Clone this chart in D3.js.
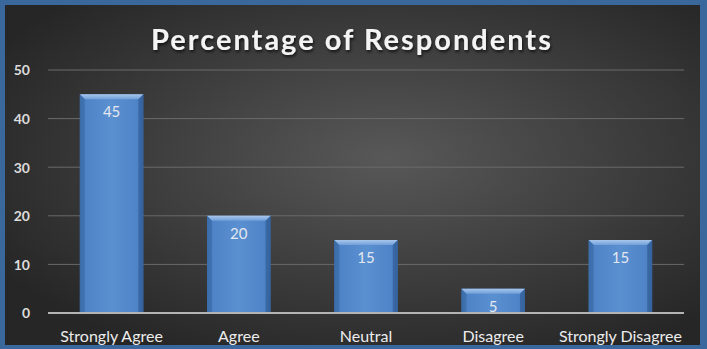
<!DOCTYPE html>
<html><head><meta charset="utf-8">
<script src="https://cdn.jsdelivr.net/npm/d3@7"></script>
<style>html,body{margin:0;padding:0;background:#fff;}svg{display:block;}</style>
</head><body>
<script>
const categories = ["Strongly Agree","Agree","Neutral","Disagree","Strongly Disagree"];
const values = [45,20,15,5,15];
const yTicks = [0,10,20,30,40,50];
const title = "Percentage of Respondents";

const W=707,H=349;
const svg=d3.select("body").append("svg").attr("width",W).attr("height",H);
const defs=svg.append("defs");
const bg=defs.append("radialGradient").attr("id","bg").attr("cx","55%").attr("cy","45%").attr("r","65%");
bg.append("stop").attr("offset","0%").attr("stop-color","#585858");
bg.append("stop").attr("offset","100%").attr("stop-color","#262626");
const bar=defs.append("linearGradient").attr("id","bar").attr("x1","0").attr("x2","1").attr("y1","0").attr("y2","0");
bar.append("stop").attr("offset","0%").attr("stop-color","#3e6fae");
bar.append("stop").attr("offset","10%").attr("stop-color","#4f85c8");
bar.append("stop").attr("offset","50%").attr("stop-color","#5a8fd0");
bar.append("stop").attr("offset","90%").attr("stop-color","#4f85c8");
bar.append("stop").attr("offset","100%").attr("stop-color","#3e6fae");
const barTop=defs.append("linearGradient").attr("id","bartop").attr("x1","0").attr("x2","0").attr("y1","0").attr("y2","1");
barTop.append("stop").attr("offset","0%").attr("stop-color","#a8c6ec");
barTop.append("stop").attr("offset","100%").attr("stop-color","#6f9fd9");
const sh=defs.append("filter").attr("id","tsh").attr("x","-10%").attr("y","-20%").attr("width","120%").attr("height","160%");
sh.append("feDropShadow").attr("dx",1).attr("dy",2).attr("stdDeviation",1.5).attr("flood-color","#000").attr("flood-opacity",0.7);

svg.append("rect").attr("width",W).attr("height",H).attr("fill","#3a679c");
svg.append("rect").attr("x",5).attr("y",5).attr("width",W-12).attr("height",H-9).attr("fill","url(#bg)");

const x=d3.scaleBand().domain(categories).range([48,684]).paddingInner(0.5).paddingOuter(0.25);
const y=d3.scaleLinear().domain([0,50]).range([313,70]);

// gridlines
svg.append("g").selectAll("line").data(yTicks.filter(d=>d>0)).join("line")
 .attr("x1",48).attr("x2",684).attr("y1",d=>y(d)).attr("y2",d=>y(d))
 .attr("stroke","#6a6a6a").attr("stroke-width",1);

// y axis labels
const yAxis=d3.axisLeft(y).tickValues(yTicks).tickSize(0).tickPadding(0);
const ga=svg.append("g").attr("transform","translate(30,0)").call(yAxis);
ga.select(".domain").remove();
ga.selectAll("text").attr("fill","#dcdcdc").attr("font-family","Lato, 'Open Sans', sans-serif")
 .attr("font-weight","bold").attr("font-size",14).attr("text-anchor","end").attr("dy","0.35em");

// bars
const bw=x.bandwidth();
const gb=svg.append("g").selectAll("g").data(categories).join("g");
gb.append("rect").attr("x",d=>x(d)).attr("y",(d,i)=>y(values[i])).attr("width",bw)
 .attr("height",(d,i)=>y(0)-y(values[i])).attr("fill","url(#bar)");
gb.append("path").attr("d",(d,i)=>{const x0=x(d),x1=x0+bw,t=y(values[i]),b=5;
  return `M${x0},${t}L${x1},${t}L${x1-b},${t+b}L${x0+b},${t+b}Z`;}).attr("fill","url(#bartop)");
gb.append("path").attr("d",(d,i)=>{const x0=x(d),t=y(values[i]),b=5;
  return `M${x0},${t}L${x0+b},${t+b}L${x0+b},${y(0)}L${x0},${y(0)}Z`;}).attr("fill","#3b6aa6").attr("opacity",0.6);
gb.append("path").attr("d",(d,i)=>{const x1=x(d)+bw,t=y(values[i]),b=5;
  return `M${x1},${t}L${x1-b},${t+b}L${x1-b},${y(0)}L${x1},${y(0)}Z`;}).attr("fill","#2f5a92").attr("opacity",0.6);
gb.append("text").attr("x",d=>x(d)+bw/2).attr("y",(d,i)=>y(values[i])+23)
 .attr("text-anchor","middle").attr("fill","#e4e8f0").attr("font-family","Lato, 'Open Sans', sans-serif")
 .attr("font-size",15).text((d,i)=>values[i]);

// baseline
svg.append("line").attr("x1",48).attr("x2",684).attr("y1",y(0)).attr("y2",y(0))
 .attr("stroke","#b4b4b4").attr("stroke-width",2);

// category labels
const xAxis=d3.axisBottom(x).tickSize(0).tickPadding(0);
const gx=svg.append("g").attr("transform","translate(0,331)").call(xAxis);
gx.select(".domain").remove();
gx.selectAll("text").attr("fill","#ececec").attr("font-family","Lato, 'Open Sans', sans-serif")
 .attr("font-size",16).attr("dy","0.71em");

// title
svg.append("text").attr("x",352).attr("y",50).attr("text-anchor","middle")
 .attr("fill","#f4f4f4").attr("font-family","Lato, 'Open Sans', sans-serif").attr("font-weight","bold")
 .attr("font-size",29).attr("letter-spacing",2).attr("filter","url(#tsh)").text(title);
</script>
</body></html>
